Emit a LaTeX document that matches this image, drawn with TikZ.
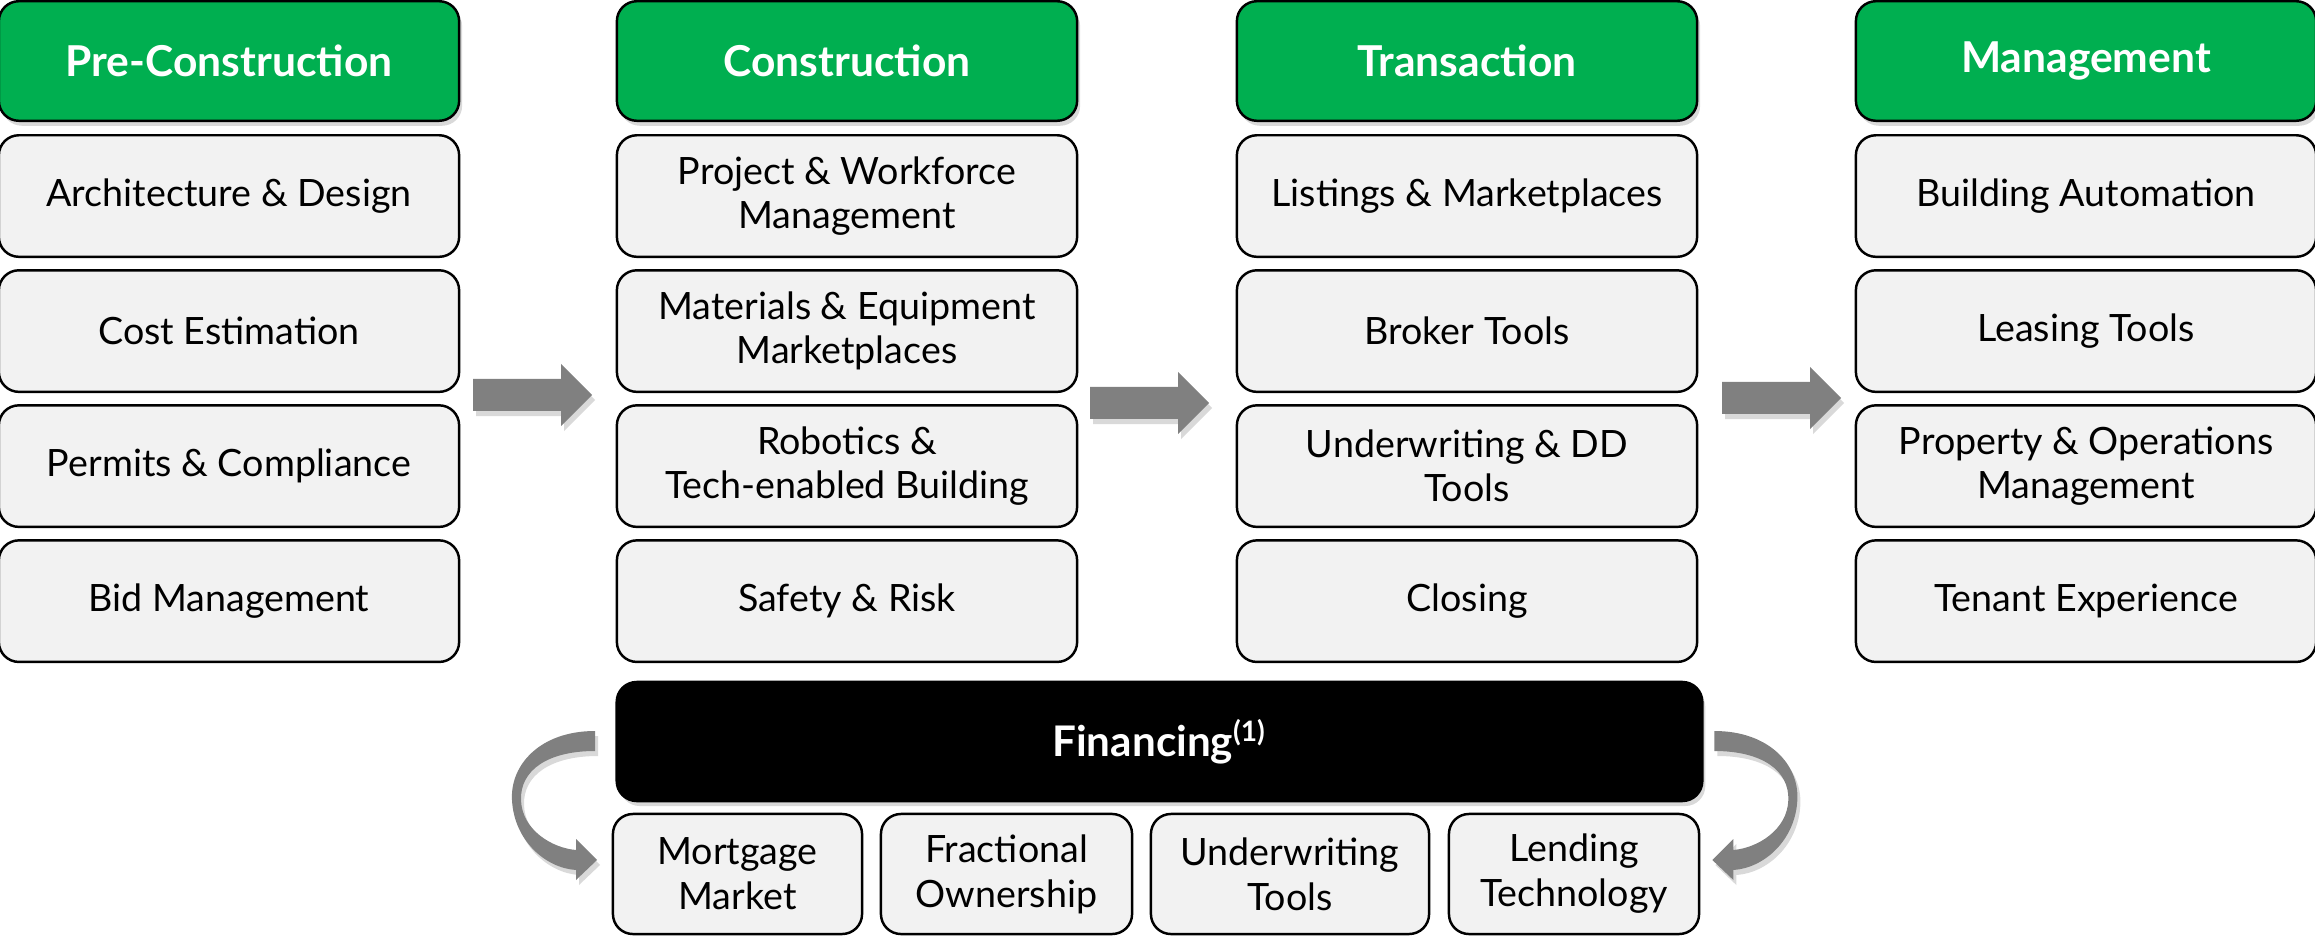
\documentclass[tikz,border=0pt]{standalone}
\usepackage{fontspec}
\setmainfont{Lato}
\usetikzlibrary{positioning,shadows}

\definecolor{stagegreen}{HTML}{00AF50}
\definecolor{itemgray}{HTML}{F2F2F2}
\definecolor{arrowgray}{HTML}{808080}

\tikzset{
  boxshadow/.style={drop shadow={opacity=0.3, shadow xshift=0.03cm, shadow yshift=-0.05cm}},
  stage/.style={draw=black, line width=0.7pt, rounded corners=0.2cm, fill=stagegreen,
    text=white, font=\bfseries\fontsize{12.1}{15}\selectfont,
    minimum width=4.6cm, minimum height=1.195cm, boxshadow},
  item/.style={draw=black, line width=0.7pt, rounded corners=0.2cm, fill=itemgray,
    font=\fontsize{10.7}{12.6}\selectfont, align=center,
    minimum width=4.6cm, minimum height=1.215cm},
  subitem/.style={item, font=\fontsize{10.7}{12.8}\selectfont, minimum height=1.2cm},
  fin/.style={draw=black, line width=0.7pt, rounded corners=0.2cm, fill=black,
    text=white, font=\bfseries\fontsize{12}{15}\selectfont,
    minimum width=10.85cm, minimum height=1.19cm, boxshadow},
}

% block arrow pointing right, centred on #1
\newcommand\stagearrow[1]{%
  \fill[arrowgray, boxshadow] (#1) ++(-59,-16) -- ++(88,0) -- ++(0,-15) -- ++(31,31)
    -- ++(-31,31) -- ++(0,-15) -- ++(-88,0) -- cycle;}

\begin{document}
\begin{tikzpicture}[x=0.01cm, y=-0.01cm]
\useasboundingbox (0,0) rectangle (2315,937);

% stages
\node[stage] (pre) at (229,61) {Pre-Construction};
\node[item, below=0.12cm of pre] (pre1) {Architecture \& Design};
\node[item, below=0.11cm of pre1] (pre2) {Cost Estimation};
\node[item, below=0.11cm of pre2] (pre3) {Permits \& Compliance};
\node[item, below=0.11cm of pre3] (pre4) {Bid Management};

\node[stage] (con) at (847,61) {Construction};
\node[item, below=0.12cm of con] (con1) {Project \& Workforce\\Management};
\node[item, below=0.11cm of con1] (con2) {Materials \& Equipment\\Marketplaces};
\node[item, below=0.11cm of con2] (con3) {Robotics \&\\Tech-enabled Building};
\node[item, below=0.11cm of con3] (con4) {Safety \& Risk};

\node[stage] (txn) at (1467,61) {Transaction};
\node[item, below=0.12cm of txn] (txn1) {Listings \& Marketplaces};
\node[item, below=0.11cm of txn1] (txn2) {Broker Tools};
\node[item, below=0.11cm of txn2] (txn3) {Underwriting \& DD\\Tools};
\node[item, below=0.11cm of txn3] (txn4) {Closing};

\node[stage] (mgmt) at (2086,61) {Management};
\node[item, below=0.12cm of mgmt] (mgmt1) {Building Automation};
\node[item, below=0.11cm of mgmt1] (mgmt2) {Leasing Tools};
\node[item, below=0.11cm of mgmt2] (mgmt3) {Property \& Operations\\Management};
\node[item, below=0.11cm of mgmt3] (mgmt4) {Tenant Experience};

% arrows between stages
\coordinate (ar1) at (532,395);
\coordinate (ar2) at (1149,403);
\coordinate (ar3) at (1781,398);
\stagearrow{ar1}
\stagearrow{ar2}
\stagearrow{ar3}

% financing
\node[fin] (fin) at (1159.5,741.5) {Financing\textsuperscript{(1)}};
\node[subitem, minimum width=2.49cm] (mort) at (737.5,874) {Mortgage\\Market};
\node[subitem, minimum width=2.51cm] (frac) at (1006.5,874) {Fractional\\Ownership};
\node[subitem, minimum width=2.78cm] (uw) at (1290,874) {Underwriting\\Tools};
\node[subitem, minimum width=2.50cm] (lend) at (1574,874) {Lending\\Technology};

% curved arrows round the financing box
\fill[arrowgray, boxshadow] (595,731) .. controls (540,731) and (510,765) .. (512,800)
  .. controls (514,840) and (545,868) .. (576,870) -- (576,880) -- (597,860)
  -- (576,839) -- (576,850) .. controls (552,848) and (522,830) .. (521,800)
  .. controls (520,770) and (548,751) .. (595,751) -- cycle;
\begin{scope}[xshift=23.08cm, xscale=-1]
\fill[arrowgray, boxshadow] (595,731) .. controls (540,731) and (510,765) .. (512,800)
  .. controls (514,840) and (545,868) .. (576,870) -- (576,880) -- (597,860)
  -- (576,839) -- (576,850) .. controls (552,848) and (522,830) .. (521,800)
  .. controls (520,770) and (548,751) .. (595,751) -- cycle;
\end{scope}
\end{tikzpicture}
\end{document}
